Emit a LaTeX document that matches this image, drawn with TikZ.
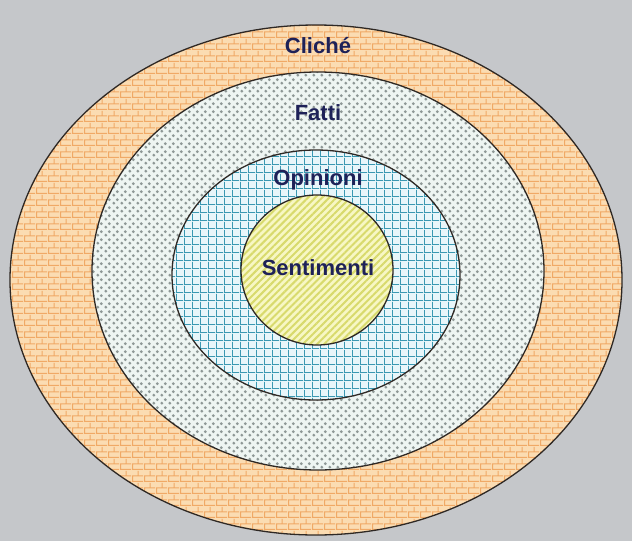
\documentclass[tikz,border=0pt]{standalone}
\usepackage{fontspec}
\setmainfont{Liberation Sans}
\usetikzlibrary{patterns,patterns.meta}
\definecolor{bgc}{HTML}{C5C7CA}
\definecolor{edgec}{HTML}{2E2824}
\definecolor{txtc}{HTML}{1E2158}
\definecolor{brickfill}{HTML}{FBDCB2}
\definecolor{brickline}{HTML}{F0A966}
\definecolor{dotfill}{HTML}{EEF5F2}
\definecolor{dotc}{HTML}{8E9896}
\definecolor{gridfill}{HTML}{E8F6FA}
\definecolor{gridc}{HTML}{3A98B2}
\definecolor{stripefill}{HTML}{F7F7C4}
\definecolor{stripec}{HTML}{D8DA6C}
\tikzdeclarepattern{
  name=mybricks,
  type=uncolored,
  bounding box={(0pt,0pt) and (12pt,12pt)},
  tile size={(12pt,12pt)},
  code={
    \draw[line width=1.3pt] (0pt,0.6pt)--(12pt,0.6pt) (0pt,6.6pt)--(12pt,6.6pt)
      (0.6pt,0.6pt)--(0.6pt,6.6pt) (6.6pt,6.6pt)--(6.6pt,12pt);
  }
}
\tikzdeclarepattern{
  name=mydots,
  type=uncolored,
  bounding box={(0pt,0pt) and (8pt,8pt)},
  tile size={(8pt,8pt)},
  code={
    \fill (2pt,2pt) circle (1.7pt);
    \fill (6pt,6pt) circle (1.7pt);
  }
}
\tikzdeclarepattern{
  name=mygrid,
  type=uncolored,
  bounding box={(0pt,0pt) and (8pt,8pt)},
  tile size={(8pt,8pt)},
  code={
    \fill (0pt,0pt) rectangle (8pt,1.1pt);
    \fill (0pt,0pt) rectangle (1.1pt,8pt);
  }
}
\tikzset{
  ring/.style={draw=edgec, line width=1.3pt},
  lbl/.style={text=txtc, font=\fontsize{22}{26}\selectfont\bfseries, inner sep=0pt},
  brickarea/.style={fill=brickfill, postaction={pattern=mybricks, pattern color=brickline}},
  dotarea/.style={fill=dotfill, postaction={pattern=mydots, pattern color=dotc}},
  gridarea/.style={fill=gridfill, postaction={pattern=mygrid, pattern color=gridc}},
  stripearea/.style={fill=stripefill, postaction={pattern={Lines[distance=5pt, angle=45, line width=2pt]}, pattern color=stripec}},
}
\begin{document}
\begin{tikzpicture}[x=1pt,y=-1pt]
\fill[bgc] (0,0) rectangle (632,541);
\useasboundingbox (0,0) rectangle (632,541);
% outer
\path[brickarea] (316,280) ellipse [x radius=306, y radius=255];
\draw[ring] (316,280) ellipse [x radius=306, y radius=255];
% Fatti
\path[dotarea] (318,271) ellipse [x radius=226, y radius=199];
\draw[ring] (318,271) ellipse [x radius=226, y radius=199];
% Opinioni
\path[gridarea] (316,275) ellipse [x radius=144, y radius=125];
\draw[ring] (316,275) ellipse [x radius=144, y radius=125];
% Sentimenti
\path[stripearea] (317,270) ellipse [x radius=76, y radius=75];
\draw[ring] (317,270) ellipse [x radius=76, y radius=75];
\node[lbl] (cliche) at (318,46) {Cliché};
\node[lbl] (fatti) at (318,113) {Fatti};
\node[lbl] (opinioni) at (318,180) {Opinioni};
\node[lbl] (sentimenti) at (318,268) {Sentimenti};
\end{tikzpicture}
\end{document}
